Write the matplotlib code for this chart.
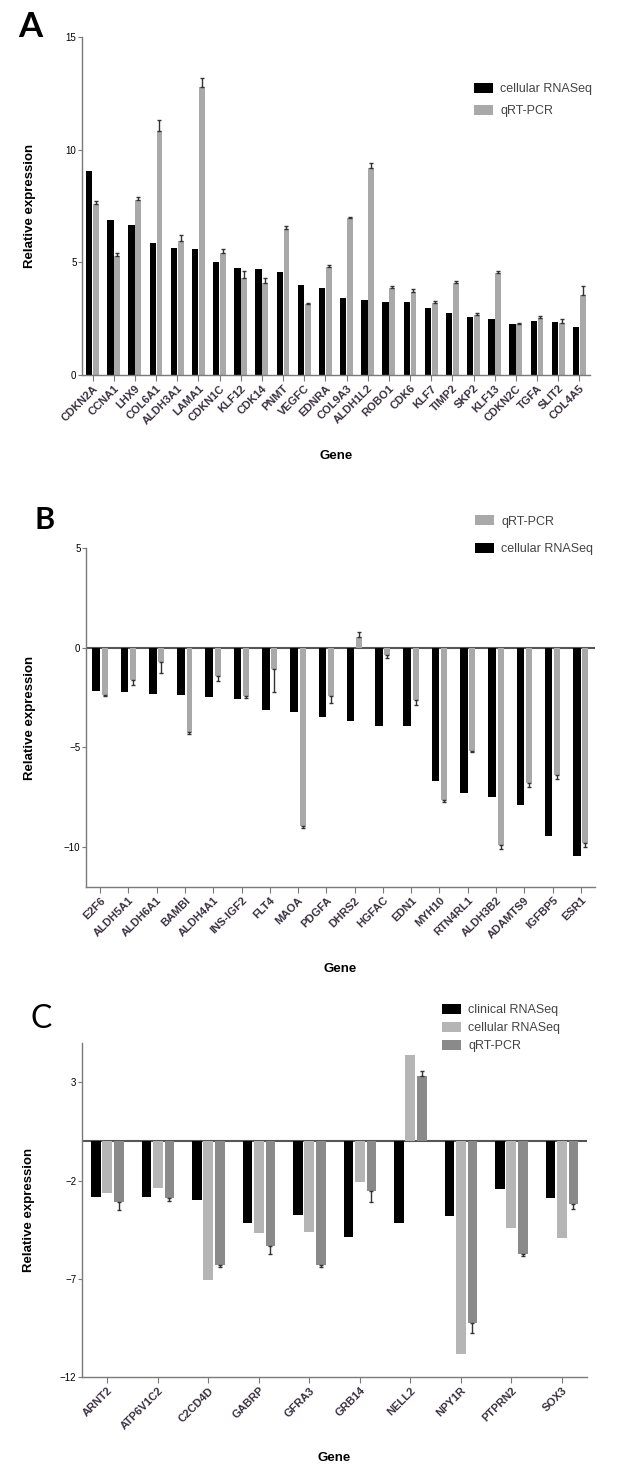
import numpy as np
import matplotlib
matplotlib.use("Agg")
import matplotlib.pyplot as plt

plt.rcParams['font.family'] = ['Liberation Sans', 'DejaVu Sans']

W, H = 626, 1472

# panel A data
genes_a = ["CDKN2A", "CCNA1", "LHX9", "COL6A1", "ALDH3A1", "LAMA1", "CDKN1C", "KLF12",
           "CDK14", "PNMT", "VEGFC", "EDNRA", "COL9A3", "ALDH1L2", "ROBO1", "CDK6",
           "KLF7", "TIMP2", "SKP2", "KLF13", "CDKN2C", "TGFA", "SLIT2", "COL4A5"]
cell_a = [9.05, 6.9, 6.65, 5.85, 5.63, 5.6, 5.03, 4.77, 4.7, 4.55, 4.0, 3.87,
          3.43, 3.33, 3.24, 3.24, 2.97, 2.77, 2.57, 2.48, 2.27, 2.4, 2.35, 2.15]
qpcr_a = [7.6, 5.3, 7.75, 10.85, 5.95, 12.8, 5.4, 4.3, 4.1, 6.5, 3.15, 4.8,
          6.95, 9.2, 3.85, 3.7, 3.2, 4.08, 2.67, 4.52, 2.27, 2.53, 2.3, 3.55]
qpcr_a_err = [0.1, 0.1, 0.15, 0.45, 0.25, 0.4, 0.2, 0.3, 0.2, 0.1, 0.05, 0.1,
              0.05, 0.2, 0.1, 0.1, 0.1, 0.1, 0.1, 0.1, 0.05, 0.1, 0.2, 0.4]

# panel B data
genes_b = ["E2F6", "ALDH5A1", "ALDH6A1", "BAMBI", "ALDH4A1", "INS-IGF2", "FLT4", "MAOA",
           "PDGFA", "DHRS2", "HGFAC", "EDN1", "MYH10", "RTN4RL1", "ALDH3B2", "ADAMTS9",
           "IGFBP5", "ESR1"]
cell_b = [-2.19, -2.24, -2.34, -2.39, -2.49, -2.59, -3.13, -3.23, -3.48, -3.68, -3.93,
          -3.95, -6.67, -7.31, -7.48, -7.9, -9.45, -10.45]
qpcr_b = [-2.39, -1.6, -0.7, -4.23, -1.44, -2.44, -1.09, -8.96, -2.44, 0.55, -0.35,
          -2.6, -7.66, -5.17, -9.9, -6.8, -6.4, -9.8]
qpcr_b_err = [0.05, 0.25, 0.55, 0.1, 0.25, 0.1, 1.15, 0.1, 0.35, 0.25, 0.15,
              0.25, 0.1, 0.05, 0.2, 0.2, 0.2, 0.2]

# panel C data
genes_c = ["ARNT2", "ATP6V1C2", "C2CD4D", "GABRP", "GFRA3", "GRB14", "NELL2", "NPY1R",
           "PTPRN2", "SOX3"]
clin_c = [-2.86, -2.86, -3.0, -4.15, -3.73, -4.86, -4.15, -3.78, -2.45, -2.87]
cell_c = [-2.66, -2.4, -7.06, -4.65, -4.6, -2.1, 4.4, -10.85, -4.4, -4.9]
qpcr_c = [-3.1, -2.87, -6.3, -5.35, -6.3, -2.55, 3.33, -9.27, -5.73, -3.2]
qpcr_c_err = [0.4, 0.15, 0.1, 0.4, 0.1, 0.55, 0.25, 0.5, 0.1, 0.25]

black = "#000000"
grey = "#a9a9a9"
light_grey = "#b5b5b5"
dark_grey = "#8a8a8a"
label_col = "#3a3040"
spine_col = "#7a7a7a"


# axes placed by pixel box
def px_axes(fig, left, top, right, bottom):
    return fig.add_axes([left / W, 1 - bottom / H, (right - left) / W, (bottom - top) / H])


def one_sided(vals, errs):
    # error bar only away from zero
    lower = [e if v < 0 else 0 for v, e in zip(vals, errs)]
    upper = [e if v >= 0 else 0 for v, e in zip(vals, errs)]
    return [lower, upper]


def style_axes(ax, genes, yticks, ylim, ylab_x, gene_y):
    n = len(genes)
    ax.set_xlim(-0.5, n - 0.5)
    ax.set_ylim(*ylim)
    ax.set_yticks(yticks)
    ax.set_xticks(np.arange(n))
    ax.set_xticklabels(genes, rotation=45, ha="right", rotation_mode="anchor",
                       fontsize=8, fontweight="bold", color=label_col)
    ax.tick_params(axis="y", labelsize=7, length=3, width=0.8, color=spine_col, pad=1)
    ax.tick_params(axis="x", length=4, width=0.8, color=spine_col, pad=2)
    for s in ["top", "right"]:
        ax.spines[s].set_visible(False)
    for s in ["left", "bottom"]:
        ax.spines[s].set_color(spine_col)
        ax.spines[s].set_linewidth(1.0)
    ax.set_ylabel("Relative expression", fontsize=9.5, fontweight="bold")
    ax.yaxis.set_label_coords(ylab_x, 0.5)
    ax.set_xlabel("Gene", fontsize=9.5, fontweight="bold")
    ax.xaxis.set_label_coords(0.5, gene_y)


fig = plt.figure(figsize=(W / 100, H / 100), dpi=100)
ekw = dict(ecolor="#333333", elinewidth=1, capsize=1.5, capthick=1)

# panel A
ax = px_axes(fig, 82, 37, 590, 375)
x = np.arange(len(genes_a))
ax.bar(x - 0.16, cell_a, 0.3, color=black, label="cellular RNASeq")
ax.bar(x + 0.16, qpcr_a, 0.28, color=grey, label="qRT-PCR",
       yerr=one_sided(qpcr_a, qpcr_a_err), error_kw=ekw)
style_axes(ax, genes_a, [0, 5, 10, 15], (0, 15), -0.09, -0.222)
ax.legend(loc="upper left", bbox_to_anchor=(0.772, 0.865), frameon=False, fontsize=9,
          handlelength=1.5, handleheight=0.9, labelspacing=0.75, handletextpad=0.6,
          borderpad=0, borderaxespad=0, labelcolor="#444444")
fig.text(30 / W, 1 - 27 / H, "A", fontsize=25, fontweight="bold", family="Lato",
         ha="center", va="center")

# panel B
ax = px_axes(fig, 86, 548, 595, 887)
x = np.arange(len(genes_b))
ax.bar(x - 0.14, cell_b, 0.27, color=black, label="cellular RNASeq")
ax.bar(x + 0.16, qpcr_b, 0.21, color=grey, label="qRT-PCR",
       yerr=one_sided(qpcr_b, qpcr_b_err), error_kw=ekw)
ax.axhline(0, color="#555555", lw=1.5, zorder=0.5)
style_axes(ax, genes_b, [-10, -5, 0, 5], (-12, 5), -0.098, -0.224)
handles, labels = ax.get_legend_handles_labels()
ax.legend(handles[::-1], labels[::-1], loc="upper left", bbox_to_anchor=(0.764, 1.097),
          frameon=False, fontsize=9, handlelength=1.5, handleheight=0.9,
          labelspacing=1.2, handletextpad=0.6, borderpad=0, borderaxespad=0,
          labelcolor="#444444")
fig.text(45 / W, 1 - 520 / H, "B", fontsize=22, fontweight="bold", family="Lato",
         ha="center", va="center")

# panel C
ax = px_axes(fig, 82, 1043, 587, 1377)
x = np.arange(len(genes_c))
ax.bar(x - 0.22, clin_c, 0.19, color=black, label="clinical RNASeq")
ax.bar(x, cell_c, 0.19, color=light_grey, label="cellular RNASeq")
ax.bar(x + 0.23, qpcr_c, 0.19, color=dark_grey, label="qRT-PCR",
       yerr=one_sided(qpcr_c, qpcr_c_err), error_kw=ekw)
ax.axhline(0, color="#555555", lw=1.5, zorder=0.5)
style_axes(ax, genes_c, [-12, -7, -2, 3], (-12, 5), -0.093, -0.225)
ax.legend(loc="upper left", bbox_to_anchor=(0.713, 1.117), frameon=False, fontsize=9,
          handlelength=1.5, handleheight=0.85, labelspacing=0.45, handletextpad=0.6,
          borderpad=0, borderaxespad=0, labelcolor="#444444")
fig.text(41 / W, 1 - 1019 / H, "C", fontsize=23, family="Lato",
         ha="center", va="center")

fig.savefig("out.png", dpi=100, facecolor="white")
